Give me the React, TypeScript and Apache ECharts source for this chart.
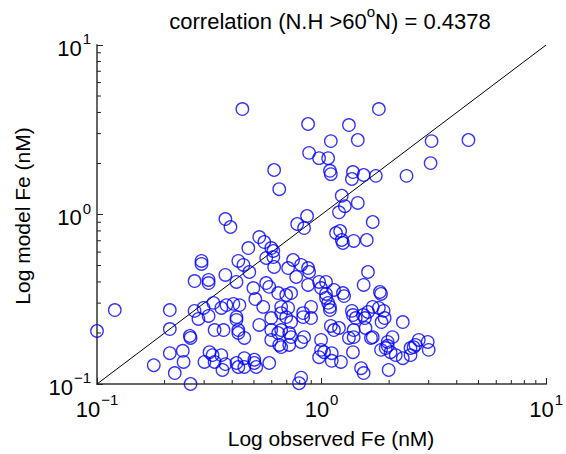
import React, { useEffect, useRef } from "react";
import * as echarts from "echarts";

const chartTitle = "correlation (N.H >60";
const chartTitleTail = "N) = 0.4378";
const xAxisTitle = "Log observed Fe (nM)";
const yAxisTitle = "Log model Fe (nM)";
const axisMin = 0.1;
const axisMax = 10;
const minorTickValues = [0.2, 0.3, 0.4, 0.5, 0.6, 0.7, 0.8, 0.9, 2, 3, 4, 5, 6, 7, 8, 9];
const oneToOne = [0.1, 10];

const observedFe = [
  0.444, 0.871, 1.324, 1.8, 1.1, 1.45, 0.88, 0.975, 1.07, 1.09, 1.1, 0.615, 0.648, 3.09, 4.51, 3.06,
  1.38, 1.365, 1.54, 1.745, 2.39, 1.23, 1.27, 1.196, 1.45, 1.69, 0.862, 0.373, 0.393, 0.779, 0.836,
  1.16, 1.21, 1.23, 1.245, 1.39, 1.59,
  0.292, 0.292, 0.272, 0.314, 0.314, 0.12, 0.211, 0.272, 0.298, 0.33, 0.1, 0.211, 0.283, 0.314,
  0.259, 0.261, 0.211, 0.241, 0.243, 0.179, 0.222, 0.261, 0.317, 0.327, 0.301, 0.334, 0.334,
  0.358, 0.366, 0.362, 0.373, 0.358, 0.373,
  0.528, 0.556, 0.472, 0.597, 0.61, 0.567, 0.61, 0.426, 0.449, 0.477, 0.615, 0.747, 0.71, 0.811,
  0.871, 0.88, 0.771, 0.418, 0.497, 0.567, 0.585, 0.641, 0.696, 0.732, 0.871, 0.975, 0.995, 1.047,
  1.047, 1.07, 1.09, 1.09, 0.507, 0.405, 0.431, 0.377, 0.55, 0.661, 0.71, 0.898, 1.136, 1.245, 1.26,
  0.418, 0.418, 0.426, 0.426, 0.453, 0.528, 0.597, 0.661, 0.696, 0.732, 0.828, 0.898, 0.828, 0.597,
  0.641, 0.661, 0.718, 0.732, 0.836, 0.597, 0.648, 0.661, 0.718, 0.811, 0.995, 0.995, 1.026, 0.975,
  0.418, 0.426, 0.453, 0.453, 0.502, 0.502, 0.512, 0.585, 0.811, 0.794,
  1.61, 1.54, 1.82, 1.84, 1.365, 1.38, 1.42, 1.53, 1.56, 1.61, 1.69, 1.8, 1.89, 1.91, 1.85, 2.3,
  1.39, 1.57, 1.324, 1.39, 1.66, 1.69, 2.07, 1.97, 1.84, 1.93, 2.03, 1.97, 2.14, 2.3, 2.49, 2.57,
  2.62, 2.71, 2.97, 3.0, 2.49, 1.38, 1.5, 1.54, 1.99, 1.22, 1.11, 1.11, 1.1, 1.136, 1.196, 1.047,
];

const modelFe = [
  4.19, 3.42, 3.37, 4.19, 2.71, 2.75, 2.31, 2.15, 2.15, 1.81, 1.73, 1.83, 1.41, 2.71, 2.75, 2.01,
  1.78, 1.62, 1.71, 1.69, 1.69, 1.29, 1.12, 1.03, 1.17, 0.903, 0.98, 0.94, 0.844, 0.879, 0.832,
  0.778, 0.799, 0.707, 0.679, 0.698, 0.707,
  0.532, 0.511, 0.405, 0.411, 0.394, 0.273, 0.273, 0.27, 0.281, 0.301, 0.2055, 0.211, 0.242, 0.252,
  0.192, 0.187, 0.152, 0.157, 0.135, 0.129, 0.116, 0.1, 0.154, 0.148, 0.135, 0.135, 0.208,
  0.281, 0.208, 0.121, 0.131, 0.148, 0.44,
  0.736, 0.688, 0.634, 0.634, 0.609, 0.554, 0.561, 0.532, 0.504, 0.458, 0.49, 0.539, 0.483, 0.504,
  0.483, 0.458, 0.428, 0.4, 0.368, 0.394, 0.374, 0.344, 0.335, 0.344, 0.384, 0.4, 0.368, 0.34,
  0.322, 0.301, 0.285, 0.273, 0.317, 0.297, 0.292, 0.292, 0.285, 0.285, 0.281, 0.285, 0.359, 0.344, 0.33,
  0.248, 0.239, 0.208, 0.2, 0.187, 0.223, 0.245, 0.262, 0.248, 0.232, 0.248, 0.245, 0.262, 0.208,
  0.2, 0.208, 0.2, 0.189, 0.189, 0.182, 0.17, 0.165, 0.17, 0.177, 0.182, 0.159, 0.154, 0.144,
  0.133, 0.126, 0.142, 0.126, 0.139, 0.133, 0.126, 0.133, 0.109, 0.101,
  0.458, 0.384, 0.349, 0.34, 0.27, 0.255, 0.245, 0.255, 0.245, 0.266, 0.285, 0.281, 0.27, 0.245, 0.232, 0.232,
  0.208, 0.214, 0.187, 0.189, 0.187, 0.189, 0.189, 0.177, 0.159, 0.163, 0.154, 0.168, 0.148, 0.142, 0.148, 0.165,
  0.17, 0.182, 0.177, 0.159, 0.163, 0.154, 0.124, 0.116, 0.121, 0.135, 0.137, 0.152, 0.22, 0.208, 0.214, 0.4,
];

const FONT = "'Liberation Sans', Arial, Helvetica, sans-serif";

export default function App() {
  const ref = useRef<HTMLDivElement>(null);
  useEffect(() => {
    if (!ref.current) return;
    const chart = echarts.init(ref.current, null, { renderer: "svg" });
    const points = observedFe.map((x, i) => [x, modelFe[i]]);
    const labelFormatter = (v: number) => {
      const e = Math.round(Math.log10(v));
      return `{b|10}{e|${e < 0 ? "\u2212" + Math.abs(e) : e}}`;
    };
    const rich = {
      b: { fontSize: 22, fontFamily: FONT, color: "#000", lineHeight: 28, verticalAlign: "bottom" },
      e: { fontSize: 15, fontFamily: FONT, color: "#000", lineHeight: 28, verticalAlign: "top", padding: [0, 0, 0, 1] },
    };
    const axisCommon = {
      type: "log",
      logBase: 10,
      min: axisMin,
      max: axisMax,
      splitLine: { show: false },
      axisLine: { show: true, lineStyle: { color: "#666", width: 2 } },
      axisTick: { show: true, inside: true, length: 6, lineStyle: { color: "#222", width: 1 } },
      minorTick: { show: false },
    };
    chart.setOption({
      animation: false,
      backgroundColor: "#fff",
      grid: { left: 97, right: 18, top: 45, bottom: 70, containLabel: false },
      xAxis: {
        ...axisCommon,
        axisLabel: { margin: 8, formatter: labelFormatter, rich },
      },
      yAxis: {
        ...axisCommon,
        axisLabel: { margin: 6, formatter: labelFormatter, rich },
      },
      graphic: [
        {
          type: "text",
          x: 330,
          y: 18,
          style: {
            text: `{t|${chartTitle}}{s|o}{t|${chartTitleTail}}`,
            align: "center",
            verticalAlign: "middle",
            rich: {
              t: { fontSize: 22, fontFamily: FONT, fill: "#000", lineHeight: 28, verticalAlign: "bottom" },
              s: { fontSize: 15, fontFamily: FONT, fill: "#000", lineHeight: 28, verticalAlign: "top" },
            },
          },
        },
        {
          type: "text",
          x: 331,
          y: 438,
          style: { text: xAxisTitle, fontSize: 21, fontFamily: FONT, fill: "#000", align: "center", verticalAlign: "middle" },
        },
        {
          type: "text",
          x: 22,
          y: 216,
          rotation: Math.PI / 2,
          style: { text: yAxisTitle, fontSize: 21, fontFamily: FONT, fill: "#000", align: "center", verticalAlign: "middle" },
        },
      ],
      series: [
        {
          type: "line",
          data: [
            [oneToOne[0], oneToOne[0]],
            [oneToOne[1], oneToOne[1]],
          ],
          symbol: "none",
          lineStyle: { color: "#000", width: 1 },
          z: 3,
        },
        {
          type: "scatter",
          data: points,
          symbol: "circle",
          symbolSize: 12.5,
          itemStyle: { color: "rgba(0,0,0,0)", borderColor: "#0000ff", borderWidth: 1.3 },
          z: 4,
        },
        {
          type: "custom",
          data: minorTickValues,
          silent: true,
          clip: false,
          renderItem: (params: any, api: any) => {
            const v = api.value(0);
            const px = api.coord([v, axisMin]);
            const py = api.coord([axisMin, v]);
            return {
              type: "group",
              children: [
                { type: "line", shape: { x1: px[0], y1: px[1], x2: px[0], y2: px[1] - 4 }, style: { stroke: "#222", lineWidth: 1 } },
                { type: "line", shape: { x1: py[0], y1: py[1], x2: py[0] + 4, y2: py[1] }, style: { stroke: "#222", lineWidth: 1 } },
              ],
            };
          },
          encode: { x: 0 },
          z: 2,
        },
      ],
    });
    return () => chart.dispose();
  }, []);
  return <div ref={ref} style={{ position: "fixed", left: 0, top: 0, width: 566, height: 454 }} />;
}
